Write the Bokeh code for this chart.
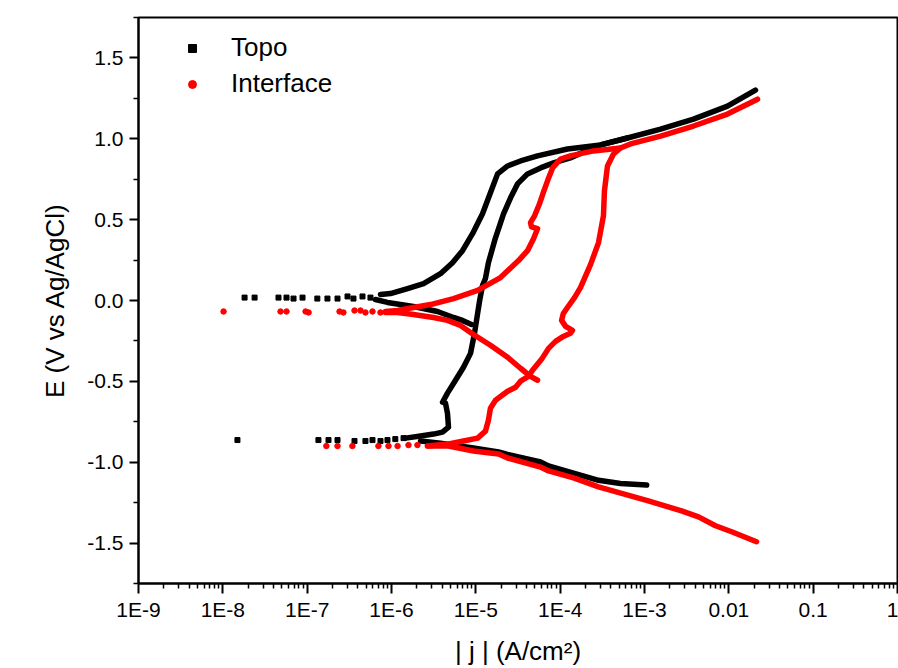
from bokeh.plotting import figure
from bokeh.models import (FixedTicker, PrintfTickFormatter, CustomJSTickFormatter,
                          Legend, LegendItem, Range1d)
from bokeh.embed import file_html
from bokeh.resources import INLINE

# ---------------- data (|j| in A/cm2, E in V vs Ag/AgCl) ----------------
# Topo (black)
topo_cath_j = [2.21e-6, 3.81e-6, 9.38e-6, 1.86e-5, 2.38e-5, 5.85e-5, 7.28e-5, 1.44e-4, 2.85e-4, 5.19e-4, 1.06e-3]
topo_cath_E = [-0.869, -0.882, -0.912, -0.937, -0.952, -0.999, -1.023, -1.067, -1.112, -1.132, -1.141]

topo_fwd_j = [1.47e-6, 2.21e-6, 3.15e-6, 4.03e-6, 4.74e-6, 4.61e-6, 4.37e-6, 4.03e-6, 4.61e-6, 5.74e-6,
              7.14e-6, 8.65e-6, 9.64e-6, 1.05e-5, 1.11e-5, 1.20e-5, 1.30e-5, 1.41e-5, 1.71e-5, 2.13e-5,
              2.58e-5, 3.12e-5, 4.10e-5, 5.85e-5, 8.35e-5, 1.32e-4, 1.89e-4, 3.01e-4, 6.28e-4, 1.55e-3,
              3.81e-3, 9.64e-3, 2.07e-2]
topo_fwd_E = [-0.851, -0.838, -0.826, -0.814, -0.783, -0.697, -0.635, -0.629, -0.573, -0.493,
              -0.413, -0.327, -0.203, -0.080, 0.0, 0.092, 0.136, 0.234, 0.388, 0.536,
              0.635, 0.721, 0.783, 0.820, 0.851, 0.882, 0.918, 0.962, 1.005, 1.060,
              1.122, 1.202, 1.301]

topo_rev_j = [6.28e-4, 3.01e-4, 1.22e-4, 5.39e-5, 3.39e-5, 2.38e-5, 1.81e-5, 1.49e-5, 1.20e-5, 9.14e-6,
              6.95e-6, 5.29e-6, 3.81e-6, 2.40e-6, 1.55e-6, 9.72e-7, 7.40e-7]
topo_rev_E = [1.005, 0.962, 0.937, 0.894, 0.863, 0.832, 0.783, 0.666, 0.536, 0.413,
              0.308, 0.234, 0.166, 0.105, 0.074, 0.043, 0.037]

topo_revcath_j = [6.46e-7, 8.96e-7, 1.82e-6, 3.51e-6, 5.44e-6, 6.95e-6, 8.89e-6]
topo_revcath_E = [0.006, -0.012, -0.037, -0.068, -0.105, -0.123, -0.148]

topo_pts_j = [1.81e-8, 2.38e-8, 4.57e-8, 5.69e-8, 6.89e-8, 8.81e-8, 1.32e-7, 1.74e-7, 2.29e-7, 3.01e-7,
              3.54e-7, 4.53e-7, 5.63e-7,
              1.49e-8, 1.36e-7, 1.79e-7, 2.29e-7, 3.64e-7, 4.91e-7, 5.95e-7, 7.40e-7, 8.96e-7, 1.11e-6, 1.39e-6]
topo_pts_E = [0.018, 0.018, 0.018, 0.018, 0.012, 0.018, 0.012, 0.012, 0.012, 0.025,
              0.012, 0.025, 0.018,
              -0.863, -0.863, -0.863, -0.863, -0.869, -0.869, -0.863, -0.869, -0.863, -0.857, -0.851]

# Interface (red)
inter_cath_j = [2.67e-6, 4.74e-6, 9.38e-6, 1.86e-5, 2.38e-5, 5.85e-5, 7.28e-5, 1.44e-4, 2.85e-4, 1.11e-3,
                2.75e-3, 4.37e-3, 6.95e-3, 1.08e-2, 2.13e-2]
inter_cath_E = [-0.900, -0.900, -0.931, -0.949, -0.974, -1.030, -1.054, -1.097, -1.153, -1.239,
                -1.301, -1.338, -1.393, -1.430, -1.492]

inter_fwd_j = [2.67e-6, 4.61e-6, 7.14e-6, 1.05e-5, 1.30e-5, 1.41e-5, 1.49e-5, 1.71e-5, 2.38e-5, 2.96e-5,
               3.39e-5, 4.22e-5, 4.70e-5, 6.01e-5, 7.28e-5, 8.81e-5, 1.09e-4, 1.32e-4, 1.40e-4, 1.16e-4,
               1.04e-4, 1.09e-4, 1.22e-4, 1.48e-4, 1.74e-4, 2.29e-4, 2.85e-4, 3.26e-4, 3.35e-4, 3.64e-4,
               4.29e-4, 5.19e-4, 6.82e-4, 1.55e-3, 3.81e-3, 9.64e-3, 2.19e-2]
inter_fwd_E = [-0.900, -0.888, -0.869, -0.851, -0.808, -0.740, -0.666, -0.617, -0.561, -0.536,
               -0.499, -0.469, -0.432, -0.364, -0.296, -0.253, -0.222, -0.203, -0.185, -0.160,
               -0.123, -0.080, -0.043, 0.018, 0.080, 0.222, 0.358, 0.524, 0.678, 0.832,
               0.906, 0.943, 0.968, 1.017, 1.079, 1.153, 1.245]

inter_rev_j = [5.19e-4, 2.48e-4, 1.32e-4, 1.01e-4, 8.13e-5, 7.08e-5, 6.35e-5, 5.69e-5, 4.97e-5, 4.45e-5,
               4.57e-5, 5.39e-5, 4.83e-5, 4.10e-5, 3.21e-5, 1.96e-5, 1.05e-5, 5.44e-6, 2.90e-6, 1.82e-6,
               1.18e-6, 8.48e-7]
inter_rev_E = [0.943, 0.925, 0.894, 0.875, 0.820, 0.740, 0.672, 0.598, 0.524, 0.481,
               0.456, 0.444, 0.382, 0.308, 0.247, 0.142, 0.062, 0.012, -0.025, -0.043,
               -0.062, -0.068]

inter_revcath_j = [8.48e-7, 1.18e-6, 1.82e-6, 3.15e-6, 4.61e-6, 6.58e-6, 9.38e-6, 1.49e-5, 2.38e-5, 3.39e-5,
                   4.45e-5, 5.39e-5]
inter_revcath_E = [-0.074, -0.074, -0.086, -0.105, -0.123, -0.154, -0.210, -0.277, -0.351, -0.419,
                   -0.469, -0.493]

inter_pts_j = [1.02e-8, 4.83e-8, 5.69e-8, 9.57e-8, 1.04e-7, 2.42e-7, 2.69e-7, 3.64e-7, 4.29e-7, 4.91e-7,
               5.95e-7, 7.40e-7,
               1.69e-7, 2.29e-7, 3.44e-7, 7.00e-7, 9.21e-7, 1.18e-6, 1.59e-6, 2.03e-6]
inter_pts_E = [-0.068, -0.068, -0.068, -0.068, -0.074, -0.068, -0.074, -0.062, -0.062, -0.074,
               -0.068, -0.074,
               -0.900, -0.900, -0.900, -0.900, -0.900, -0.900, -0.894, -0.894]

x_ticks = [1e-9, 1e-8, 1e-7, 1e-6, 1e-5, 1e-4, 1e-3, 1e-2, 1e-1, 1.0]
x_tick_labels = ["1E-9", "1E-8", "1E-7", "1E-6", "1E-5", "1E-4", "1E-3", "0.01", "0.1", "1"]
y_ticks = [-1.5, -1.0, -0.5, 0.0, 0.5, 1.0, 1.5]
y_minor_ticks = [-1.75, -1.25, -0.75, -0.25, 0.25, 0.75, 1.25, 1.75]

FONT = "Liberation Sans"

# ---------------- figure ----------------
p = figure(width=898, height=668, x_axis_type="log",
           x_range=Range1d(1e-9, 1.0), y_range=Range1d(-1.75, 1.75),
           output_backend="svg", toolbar_location=None,
           min_border_left=138, min_border_right=1, min_border_top=17, min_border_bottom=85)

p.xgrid.visible = False
p.ygrid.visible = False
p.outline_line_color = "black"
p.outline_line_width = 2
p.background_fill_color = "white"
p.border_fill_color = "white"

x_minor = [k * t for t in x_ticks[:-1] for k in range(2, 10)]
p.xaxis.ticker = FixedTicker(ticks=x_ticks, minor_ticks=x_minor)
p.xaxis.formatter = CustomJSTickFormatter(args=dict(labels=x_tick_labels),
                                          code="const i = Math.round(Math.log10(tick)) + 9; return labels[i];")
p.yaxis.ticker = FixedTicker(ticks=y_ticks, minor_ticks=y_minor_ticks)
p.yaxis.formatter = PrintfTickFormatter(format="%.1f")

for ax in (p.xaxis[0], p.yaxis[0]):
    ax.axis_line_width = 2
    ax.axis_line_color = "black"
    ax.major_tick_line_width = 2
    ax.minor_tick_line_width = 1.5
    ax.major_tick_in = 0
    ax.minor_tick_in = 0
    ax.major_label_text_font = FONT
    ax.major_label_text_font_size = "21px"
    ax.major_label_text_color = "black"
    ax.axis_label_text_font = FONT
    ax.axis_label_text_font_size = "26px"
    ax.axis_label_text_font_style = "normal"
    ax.axis_label_text_color = "black"

p.xaxis.major_tick_out = 10
p.xaxis.minor_tick_out = 5
p.yaxis.major_tick_out = 9
p.yaxis.minor_tick_out = 5
p.xaxis.major_label_standoff = 4
p.yaxis.major_label_standoff = 6
p.xaxis.axis_label = "| j | (A/cm²)"
p.yaxis.axis_label = "E (V vs Ag/AgCl)"
p.xaxis.axis_label_standoff = 12
p.yaxis.axis_label_standoff = 14

LW = 5.5
# Topo
for xs, ys in [(topo_cath_j, topo_cath_E), (topo_fwd_j, topo_fwd_E),
               (topo_rev_j, topo_rev_E), (topo_revcath_j, topo_revcath_E)]:
    p.line(xs, ys, line_width=LW, line_color="black", line_join="round", line_cap="round")
topo_sc = p.scatter(topo_pts_j, topo_pts_E, marker="square", size=5, fill_color="black", line_color="black")

# Interface
for xs, ys in [(inter_cath_j, inter_cath_E), (inter_fwd_j, inter_fwd_E),
               (inter_rev_j, inter_rev_E), (inter_revcath_j, inter_revcath_E)]:
    p.line(xs, ys, line_width=LW, line_color="#ff0000", line_join="round", line_cap="round")
inter_sc = p.scatter(inter_pts_j, inter_pts_E, marker="circle", size=5.5, fill_color="#ff0000", line_color="#ff0000")

legend = Legend(items=[LegendItem(label="Topo", renderers=[topo_sc]),
                       LegendItem(label="Interface", renderers=[inter_sc])],
                location=(39, 484), border_line_color=None, background_fill_alpha=0,
                padding=0, margin=0, spacing=5, glyph_width=30, glyph_height=20,
                label_standoff=24, label_text_font=FONT, label_text_font_size="26px",
                label_text_color="black")
p.add_layout(legend)

open("out.html", "w").write(file_html(p, INLINE))
